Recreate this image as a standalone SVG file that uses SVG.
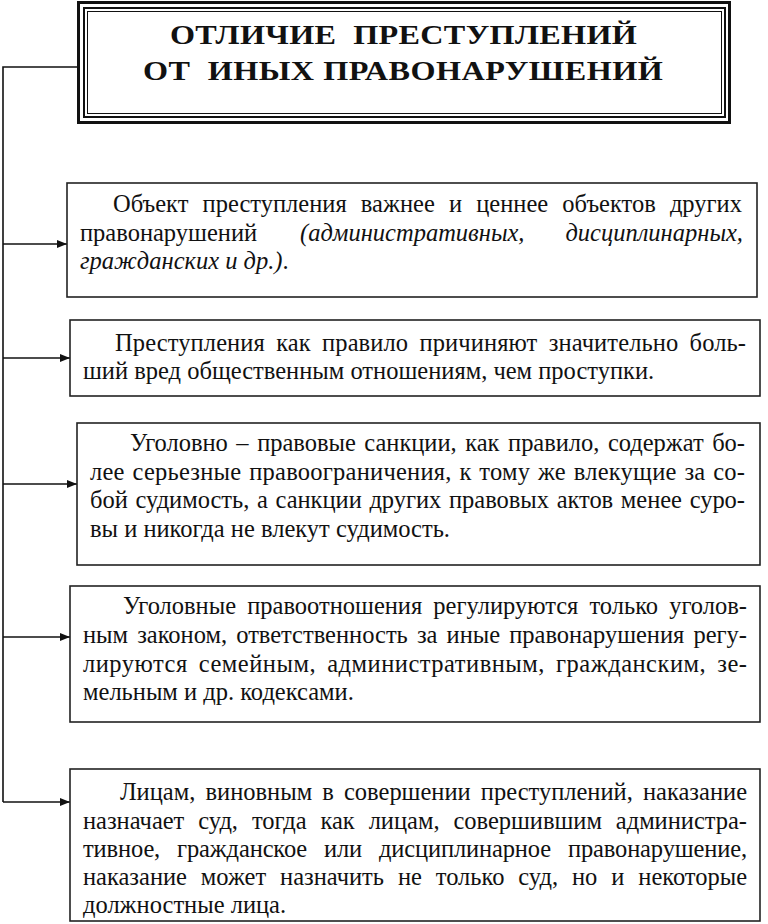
<svg xmlns="http://www.w3.org/2000/svg" width="768" height="924" viewBox="0 0 768 924">
<defs>
<marker id="arr" viewBox="0 0 10 8" refX="10" refY="4" markerWidth="10" markerHeight="8" markerUnits="userSpaceOnUse" orient="auto">
<path d="M0,0 L10,4 L0,8 z" fill="#111"/>
</marker>
<style>
.box{fill:#fff;stroke:#222;stroke-width:1.6}
.t{font-family:'Liberation Serif','Times New Roman','DejaVu Serif',serif;font-size:24.5px;fill:#111}
.title{font-family:'Liberation Serif','Times New Roman','DejaVu Serif',serif;font-size:28px;font-weight:bold;fill:#111}
.ln{stroke:#111;stroke-width:1.6;fill:none}
.i{font-style:italic}
</style>
</defs>
<rect width="768" height="924" fill="#fff"/>
<g id="connectors">
<path class="ln" d="M77,67 H3 V802"/>
<path class="ln" d="M3,244 H67" marker-end="url(#arr)"/>
<path class="ln" d="M3,358 H70" marker-end="url(#arr)"/>
<path class="ln" d="M3,484 H77" marker-end="url(#arr)"/>
<path class="ln" d="M3,637 H70" marker-end="url(#arr)"/>
<path class="ln" d="M3,802 H70" marker-end="url(#arr)"/>
</g>
<g id="title">
<rect x="78.5" y="2.5" width="651" height="120" fill="#fff" stroke="#111" stroke-width="3"/>
<rect x="84" y="8" width="641" height="109" fill="none" stroke="#111" stroke-width="2"/>
<rect x="87.5" y="11.5" width="634" height="102" fill="none" stroke="#111" stroke-width="1"/>
<text class="title" transform="translate(170,44) scale(1.15,1)" x="0" y="0" textLength="406" lengthAdjust="spacing" xml:space="preserve">ОТЛИЧИЕ  ПРЕСТУПЛЕНИЙ</text>
<text class="title" transform="translate(143,80) scale(1.15,1)" x="0" y="0" textLength="452" lengthAdjust="spacing" xml:space="preserve">ОТ  ИНЫХ ПРАВОНАРУШЕНИЙ</text>
</g>
<g id="node1">
<rect class="box" x="67" y="183" width="690" height="114"/>
<text class="t" x="113" y="212" word-spacing="8" textLength="629" lengthAdjust="spacing">Объект преступления важнее и ценнее объектов других</text>
<text class="t" x="80" y="241">правонарушений</text>
<text class="t i" x="300" y="241">(административных,</text>
<text class="t i" x="743" y="241" text-anchor="end">дисциплинарных,</text>
<text class="t" x="80" y="269"><tspan class="i">гражданских и др.)</tspan>.</text>
</g>
<g id="node2">
<rect class="box" x="70" y="320" width="690" height="76"/>
<text class="t" x="115" y="351" word-spacing="5" textLength="631" lengthAdjust="spacing">Преступления как правило причиняют значительно боль-</text>
<text class="t" x="83" y="379">ший вред общественным отношениям, чем проступки.</text>
</g>
<g id="node3">
<rect class="box" x="77" y="423" width="683" height="142"/>
<text class="t" x="130" y="451" word-spacing="2.5" textLength="615" lengthAdjust="spacing">Уголовно – правовые санкции, как правило, содержат бо-</text>
<text class="t" x="90" y="480" word-spacing="1.4" textLength="655" lengthAdjust="spacing">лее серьезные правоограничения, к тому же влекущие за со-</text>
<text class="t" x="90" y="508" word-spacing="1.6" textLength="655" lengthAdjust="spacing">бой судимость, а санкции других правовых актов менее суро-</text>
<text class="t" x="90" y="537">вы и никогда не влекут судимость.</text>
</g>
<g id="node4">
<rect class="box" x="70" y="586" width="690" height="136"/>
<text class="t" x="123" y="614" word-spacing="5" textLength="624" lengthAdjust="spacing">Уголовные правоотношения регулируются только уголов-</text>
<text class="t" x="83" y="643" word-spacing="3" textLength="664" lengthAdjust="spacing">ным законом, ответственность за иные правонарушения регу-</text>
<text class="t" x="83" y="672" word-spacing="4.5" textLength="664" lengthAdjust="spacing">лируются семейным, административным, гражданским, зе-</text>
<text class="t" x="83" y="700">мельным и др. кодексами.</text>
</g>
<g id="node5">
<rect class="box" x="70" y="769" width="690" height="152"/>
<text class="t" x="120" y="800" word-spacing="4" textLength="627" lengthAdjust="spacing">Лицам, виновным в совершении преступлений, наказание</text>
<text class="t" x="83" y="829" word-spacing="7.8" textLength="664" lengthAdjust="spacing">назначает суд, тогда как лицам, совершившим администра-</text>
<text class="t" x="83" y="857" word-spacing="11" textLength="664" lengthAdjust="spacing">тивное, гражданское или дисциплинарное правонарушение,</text>
<text class="t" x="83" y="885" word-spacing="7.8" textLength="664" lengthAdjust="spacing">наказание может назначить не только суд, но и некоторые</text>
<text class="t" x="83" y="913">должностные лица.</text>
</g>
</svg>
